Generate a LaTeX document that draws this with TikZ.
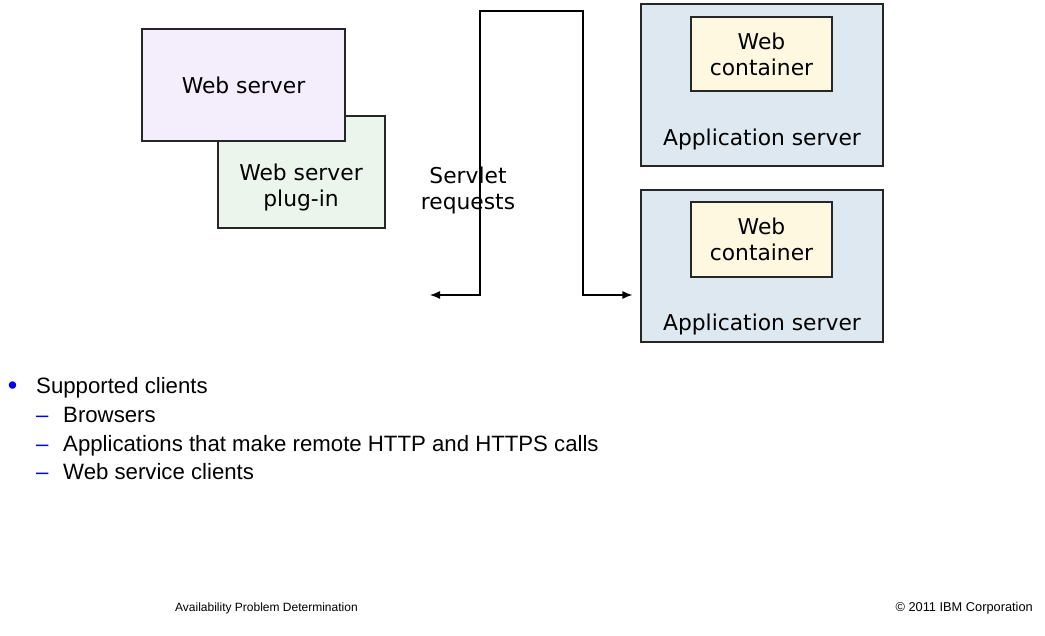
\documentclass[tikz,border=0pt]{standalone}
\usepackage{fontspec}
\setmainfont{DejaVu Sans}
\newfontfamily\arialfont{Liberation Sans}
\usetikzlibrary{positioning,arrows.meta}

\definecolor{websrvfill}{HTML}{F4EDFC}
\definecolor{pluginfill}{HTML}{EBF5EC}
\definecolor{appfill}{HTML}{DEE8F0}
\definecolor{contfill}{HTML}{FFF8E1}
\definecolor{bulletblue}{HTML}{0000F0}

\begin{document}
\begin{tikzpicture}[x=1pt,y=-1pt,
    box/.style={draw=black!85,line width=1.2pt,inner sep=0pt},
    boxtext/.style={font=\fontsize{21.8}{26}\selectfont,align=center},
    reqline/.style={line width=1.2pt,{Latex[length=10pt,width=8pt]}-{Latex[length=10pt,width=8pt]},shorten >=8pt},
    listtext/.style={font=\arialfont\fontsize{22.2}{28}\selectfont,inner sep=0pt},
    foottext/.style={font=\arialfont\fontsize{12}{15}\selectfont,inner sep=0pt}
    ]
    \useasboundingbox (0,0) rectangle (1045,636);

    % Web server and its plug-in
    \node[box,fill=pluginfill,minimum width=167pt,minimum height=112pt] (plugin) at (301.5,172) {};
    \node[boxtext] (plugintext) at (301,187) {Web server\\plug-in};
    \node[box,boxtext,fill=websrvfill,minimum width=203pt,minimum height=112pt] (websrv) at (243.5,85) {Web server};

    % Application server 1
    \node[box,fill=appfill,minimum width=242pt,minimum height=162pt] (app1) at (762,85) {};
    \node[box,boxtext,fill=contfill,minimum width=141pt,minimum height=74pt] (cont1) at (761.5,54) {Web\\container};
    \node[boxtext] (app1text) at (762,139) {Application server};

    % Application server 2
    \node[box,fill=appfill,minimum width=242pt,minimum height=152pt] (app2) at (762,266) {};
    \node[box,boxtext,fill=contfill,minimum width=141pt,minimum height=75pt] (cont2) at (761.5,239.5) {Web\\container};
    \node[boxtext] (app2text) at (762,324) {Application server};

    % Servlet requests
    \coordinate (reqend) at (430,295);
    \draw[reqline] (reqend) -- (480,295) |- (583,11) |- (app2.west |- reqend);
    \node[boxtext] (reqtext) at (468,190) {Servlet\\requests};

    % Supported clients
    \node[listtext,text=bulletblue,anchor=base,font=\arialfont\fontsize{27}{28}\selectfont] (dot) at (12.5,395) {•};
    \node[listtext,anchor=base west] (clients) at (36,394) {Supported clients};
    \node[listtext,text=bulletblue,anchor=base west] (dash1) at (36,423) {–};
    \node[listtext,anchor=base west] (browsers) at (63,423) {Browsers};
    \node[listtext,text=bulletblue,anchor=base west] (dash2) at (36,451) {–};
    \node[listtext,anchor=base west] (apps) at (63,451) {Applications that make remote HTTP and HTTPS calls};
    \node[listtext,text=bulletblue,anchor=base west] (dash3) at (36,479) {–};
    \node[listtext,anchor=base west] (wsclients) at (63,479) {Web service clients};

    % footer
    \node[foottext,anchor=west] (title) at (175,608) {Availability Problem Determination};
    \node[foottext,anchor=east,font=\arialfont\fontsize{12.8}{15}\selectfont] (copy) at (1033,608) {© 2011 IBM Corporation};
\end{tikzpicture}
\end{document}
